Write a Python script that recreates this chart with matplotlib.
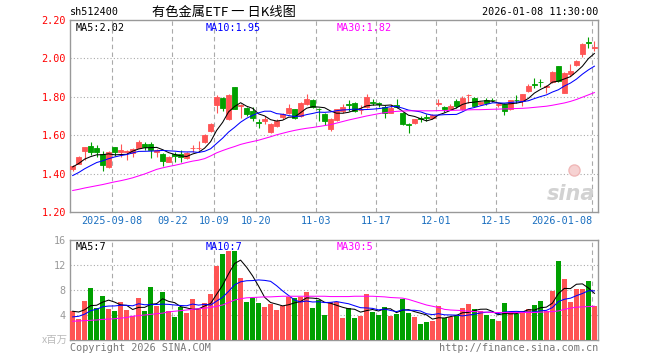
import matplotlib
matplotlib.use('Agg')
import matplotlib.pyplot as plt
import numpy as np
import pandas as pd

# 日期刻度 (交易日序号)
tick_idx = [7, 17, 24, 31, 41, 51, 61, 71, 87]
tick_lbl = ['2025-09-08', '09-22', '10-09', '10-20', '11-03', '11-17', '12-01', '12-15', '2026-01-08']

opens = [1.423, 1.452, 1.519, 1.545, 1.535, 1.503, 1.433, 1.538, 1.512, 1.514,
         1.507, 1.535, 1.555, 1.555, 1.512, 1.503, 1.463, 1.503, 1.503, 1.479,
         1.531, 1.531, 1.562, 1.622, 1.757, 1.795, 1.683, 1.853, 1.753, 1.740,
         1.728, 1.667, 1.674, 1.617, 1.648, 1.697, 1.717, 1.734, 1.700, 1.760,
         1.781, 1.736, 1.709, 1.631, 1.679, 1.726, 1.762, 1.766, 1.729, 1.748,
         1.771, 1.766, 1.748, 1.717, 1.755, 1.717, 1.659, 1.666, 1.688, 1.693,
         1.691, 1.762, 1.749, 1.734, 1.780, 1.735, 1.807, 1.796, 1.763, 1.784,
         1.785, 1.759, 1.761, 1.735, 1.785, 1.778, 1.830, 1.867, 1.879, 1.851,
         1.879, 1.960, 1.822, 1.917, 1.964, 2.021, 2.083, 2.053]
closes = [1.442, 1.487, 1.536, 1.514, 1.510, 1.445, 1.510, 1.510, 1.521, 1.516,
          1.528, 1.566, 1.541, 1.524, 1.524, 1.468, 1.489, 1.493, 1.488, 1.507,
          1.534, 1.534, 1.600, 1.657, 1.800, 1.743, 1.809, 1.738, 1.756, 1.709,
          1.688, 1.664, 1.686, 1.657, 1.674, 1.709, 1.743, 1.691, 1.769, 1.791,
          1.748, 1.734, 1.674, 1.683, 1.734, 1.747, 1.758, 1.726, 1.733, 1.800,
          1.767, 1.762, 1.714, 1.743, 1.748, 1.660, 1.655, 1.683, 1.684, 1.690,
          1.705, 1.766, 1.736, 1.750, 1.754, 1.796, 1.810, 1.752, 1.773, 1.766,
          1.782, 1.763, 1.726, 1.782, 1.782, 1.813, 1.856, 1.864, 1.876, 1.855,
          1.931, 1.882, 1.922, 1.934, 1.986, 2.073, 2.079, 2.057]
highs = [1.446, 1.493, 1.541, 1.562, 1.550, 1.520, 1.517, 1.541, 1.555, 1.521,
         1.533, 1.576, 1.562, 1.562, 1.528, 1.507, 1.493, 1.515, 1.524, 1.510,
         1.550, 1.571, 1.605, 1.664, 1.809, 1.800, 1.812, 1.853, 1.760, 1.747,
         1.748, 1.683, 1.700, 1.662, 1.683, 1.717, 1.760, 1.738, 1.772, 1.812,
         1.790, 1.743, 1.717, 1.691, 1.738, 1.760, 1.781, 1.774, 1.755, 1.817,
         1.786, 1.774, 1.755, 1.764, 1.790, 1.721, 1.666, 1.686, 1.700, 1.709,
         1.712, 1.790, 1.752, 1.764, 1.791, 1.804, 1.813, 1.799, 1.778, 1.796,
         1.792, 1.770, 1.766, 1.784, 1.808, 1.816, 1.865, 1.900, 1.891, 1.860,
         1.934, 1.960, 1.929, 1.969, 1.990, 2.078, 2.113, 2.090]
lows = [1.412, 1.451, 1.472, 1.498, 1.486, 1.416, 1.428, 1.493, 1.489, 1.472,
        1.489, 1.531, 1.524, 1.479, 1.489, 1.440, 1.458, 1.463, 1.458, 1.475,
        1.515, 1.521, 1.559, 1.619, 1.717, 1.726, 1.679, 1.734, 1.691, 1.700,
        1.674, 1.640, 1.657, 1.614, 1.645, 1.683, 1.709, 1.683, 1.697, 1.755,
        1.743, 1.674, 1.652, 1.622, 1.674, 1.714, 1.726, 1.721, 1.709, 1.743,
        1.755, 1.748, 1.691, 1.714, 1.743, 1.653, 1.614, 1.660, 1.669, 1.674,
        1.686, 1.752, 1.721, 1.729, 1.743, 1.732, 1.766, 1.747, 1.756, 1.756,
        1.773, 1.749, 1.706, 1.730, 1.766, 1.752, 1.825, 1.848, 1.853, 1.822,
        1.874, 1.879, 1.818, 1.908, 1.960, 2.009, 2.055, 2.038]
# 成交量 (百万)
volume = [4.6, 3.4, 6.3, 8.3, 5.2, 7.1, 5.0, 4.7, 6.1, 4.8,
          3.8, 6.7, 4.7, 8.5, 5.4, 7.7, 4.6, 3.7, 5.3, 4.4,
          6.5, 5.0, 6.0, 7.3, 11.8, 13.7, 14.2, 14.2, 10.0, 6.1,
          6.8, 6.0, 5.3, 5.8, 4.8, 5.4, 6.9, 6.8, 6.9, 7.7,
          5.2, 6.4, 4.0, 6.1, 6.1, 3.6, 5.2, 3.6, 3.8, 7.3,
          4.5, 4.0, 5.3, 3.9, 4.2, 6.5, 4.4, 3.7, 2.6, 2.9,
          3.1, 5.5, 3.5, 3.7, 3.9, 5.2, 5.8, 5.0, 4.7, 4.0,
          3.4, 3.1, 6.0, 4.4, 4.2, 4.7, 5.0, 5.6, 6.3, 4.7,
          7.9, 12.7, 9.7, 6.1, 8.2, 8.2, 9.4, 5.4]

# 图外之前几天的收盘价/成交量 (用于均线起点)
pre_close = [1.33, 1.34, 1.35, 1.35, 1.355, 1.40, 1.42, 1.45, 1.463]
pre_vol = [2.5, 2.8, 2.8, 2.9, 3.0, 4.0, 4.5, 5.0, 4.9]

ma30 = [1.312, 1.318, 1.325, 1.331, 1.337, 1.343, 1.350, 1.357, 1.363, 1.370,
        1.378, 1.388, 1.398, 1.410, 1.422, 1.430, 1.437, 1.443, 1.450, 1.458,
        1.465, 1.470, 1.478, 1.492, 1.508, 1.520, 1.531, 1.541, 1.552, 1.560,
        1.567, 1.574, 1.583, 1.592, 1.602, 1.610, 1.618, 1.625, 1.631, 1.636,
        1.640, 1.645, 1.650, 1.655, 1.663, 1.671, 1.679, 1.686, 1.693, 1.700,
        1.706, 1.712, 1.717, 1.721, 1.724, 1.726, 1.727, 1.727, 1.727, 1.727,
        1.727, 1.728, 1.728, 1.729, 1.730, 1.731, 1.732, 1.733, 1.733, 1.734,
        1.735, 1.736, 1.737, 1.738, 1.739, 1.740, 1.742, 1.745, 1.748, 1.751,
        1.756, 1.762, 1.768, 1.776, 1.786, 1.798, 1.810, 1.822]
vol_ma30 = [3.0, 3.05, 3.1, 3.15, 3.2, 3.3, 3.35, 3.4, 3.5, 3.6,
            3.8, 3.9, 4.0, 4.1, 4.2, 4.3, 4.5, 4.6, 4.7, 4.8,
            4.9, 5.0, 5.1, 5.2, 5.4, 5.6, 6.0, 6.4, 6.6, 6.75,
            6.8, 6.85, 6.9, 6.9, 6.95, 7.0, 7.0, 7.0, 7.0, 7.0,
            7.0, 7.0, 7.0, 6.95, 6.95, 6.95, 6.95, 7.0, 7.0, 7.0,
            7.0, 6.95, 6.9, 6.8, 6.75, 6.7, 6.5, 6.2, 5.9, 5.6,
            5.4, 5.2, 4.9, 4.8, 4.75, 4.7, 4.6, 4.55, 4.5, 4.45,
            4.4, 4.4, 4.4, 4.4, 4.4, 4.4, 4.4, 4.4, 4.45, 4.5,
            4.55, 4.65, 4.9, 5.1, 5.25, 5.3, 5.35, 5.4]

n = len(closes)
x = np.arange(n)
o = np.array(opens); c = np.array(closes)
h = np.array(highs); l = np.array(lows)
vol = np.array(volume)

cs = pd.Series(pre_close + closes)
ma5 = cs.rolling(5).mean().values[len(pre_close):]
ma10 = cs.rolling(10).mean().values[len(pre_close):]
vs = pd.Series(pre_vol + volume)
vma5 = vs.rolling(5).mean().values[len(pre_vol):]
vma10 = vs.rolling(10).mean().values[len(pre_vol):]

RED = '#ff5454'
GREEN = '#00a000'
GRID = '#aaaaaa'
cols = np.where(c >= o, RED, GREEN)

mono = 'DejaVu Sans Mono'
fs = 7.3
lw_ma = 0.75

fig = plt.figure(figsize=(6.6, 3.6), dpi=100)
ax = fig.add_axes([70/660, 1-212/360, 528/660, 192/360])
axv = fig.add_axes([70/660, 1-340/360, 528/660, 100/360])

xlo, xhi = -0.45, 87.6
grid_x = [t - 0.4 for t in tick_idx]

# K线
ax.vlines(x, l, h, colors=cols, linewidth=0.8, zorder=3)
body_lo = np.minimum(o, c)
body_h = np.maximum(np.abs(c - o), 0.002)
ax.bar(x, body_h, bottom=body_lo, width=0.82, color=cols, edgecolor=cols,
       linewidth=0.6, zorder=4)
ax.plot(x, ma5, color='black', lw=lw_ma, zorder=5)
ax.plot(x, ma10, color='#0000ff', lw=lw_ma, zorder=5)
ax.plot(x, ma30, color='#ff00ff', lw=lw_ma, zorder=5)

ax.set_xlim(xlo, xhi)
ax.set_ylim(1.20, 2.20)
ax.set_yticks([1.20, 1.40, 1.60, 1.80, 2.00, 2.20])
ax.set_yticklabels(['%.2f' % v for v in [1.20, 1.40, 1.60, 1.80, 2.00, 2.20]],
                   family=mono, fontsize=fs, color='#ff0000')
for yv in [1.40, 1.60, 1.80, 2.00]:
    ax.axhline(yv, color=GRID, lw=0.8, ls=(0, (1, 2)), zorder=1)
for gx in grid_x:
    ax.axvline(gx, color=GRID, lw=0.8, ls=(0, (4, 3)), zorder=1)
ax.set_xticks(grid_x)
ax.set_xticklabels(tick_lbl, family=mono, fontsize=fs, color='#1a6fc0')
ax.get_xticklabels()[-1].set_ha('right')
ax.get_xticklabels()[-1].set_x(xhi)
ax.tick_params(length=0, pad=3)

ax.text(0.01, 0.985, 'MA5:2.02', transform=ax.transAxes, family=mono, fontsize=fs,
        color='black', va='top')
ax.text(0.257, 0.985, 'MA10:1.95', transform=ax.transAxes, family=mono, fontsize=fs,
        color='#0000ff', va='top')
ax.text(0.505, 0.985, 'MA30:1.82', transform=ax.transAxes, family=mono, fontsize=fs,
        color='#ff00ff', va='top')

# sina 水印
ax.text(0.995, 0.04, 'sina', transform=ax.transAxes, fontsize=15, fontweight='bold',
        fontstyle='italic', color='#d2d2d2', ha='right', va='bottom', zorder=2)
ax.plot([0.955], [0.22], 'o', transform=ax.transAxes, ms=8, mfc='#f6d2d2',
        mec='#f0b8b8', zorder=2)

# 成交量
axv.bar(x, vol, width=0.88, color=cols, zorder=3)
axv.plot(x, vma5, color='black', lw=lw_ma, zorder=5)
axv.plot(x, vma10, color='#0000ff', lw=lw_ma, zorder=5)
axv.plot(x, vol_ma30, color='#ff00ff', lw=lw_ma, zorder=5)
axv.set_xlim(xlo, xhi)
axv.set_ylim(0, 16)
axv.set_yticks([4, 8, 12, 16])
axv.set_yticklabels(['4', '8', '12', '16'], family=mono, fontsize=fs, color='#999999')
for yv in [4, 8, 12]:
    axv.axhline(yv, color=GRID, lw=0.8, ls=(0, (1, 2)), zorder=1)
for gx in grid_x:
    axv.axvline(gx, color=GRID, lw=0.8, ls=(0, (4, 3)), zorder=1)
axv.set_xticks([])
axv.tick_params(length=0, pad=3)
axv.text(0.01, 0.975, 'MA5:7', transform=axv.transAxes, family=mono, fontsize=fs,
         color='black', va='top')
axv.text(0.257, 0.975, 'MA10:7', transform=axv.transAxes, family=mono, fontsize=fs,
         color='#0000ff', va='top')
axv.text(0.505, 0.975, 'MA30:5', transform=axv.transAxes, family=mono, fontsize=fs,
         color='#ff00ff', va='top')

for a in (ax, axv):
    for s in a.spines.values():
        s.set_color('#999999')
        s.set_linewidth(1.0)

# 文字
fig.text(70/660, 1-12/360, 'sh512400', family=mono, fontsize=fs, va='center')
fig.text(224/660, 1-12/360, '有色金属ETF 一 日K线图', family=['Noto Sans CJK SC', 'DejaVu Sans'],
         fontsize=9.5, va='center', ha='center')
fig.text(598/660, 1-12/360, '2026-01-08 11:30:00', family=mono, fontsize=fs,
         va='center', ha='right')
fig.text(68/660, 1-340/360, 'x百万', family=['Noto Sans CJK SC', 'DejaVu Sans'],
         fontsize=7.5, color='#bbbbbb', va='center', ha='right')
fig.text(70/660, 1-348/360, 'Copyright 2026 SINA.COM', family=mono, fontsize=fs,
         color='#777777', va='center')
fig.text(598/660, 1-348/360, 'http://finance.sina.com.cn', family=mono, fontsize=fs,
         color='#777777', va='center', ha='right')

fig.savefig('out.png', dpi=100)
